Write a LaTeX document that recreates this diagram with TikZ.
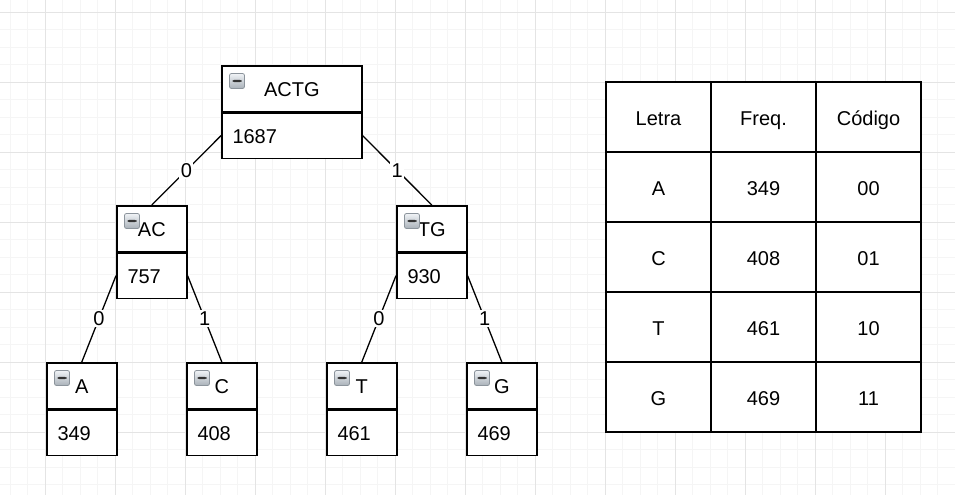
\documentclass[tikz,border=0pt]{standalone}
\usepackage{fontspec}
\setmainfont{Liberation Sans}
\definecolor{gridminor}{HTML}{F5F5F5}
\definecolor{gridmajor}{HTML}{E4E4E4}
\definecolor{iconborder}{HTML}{8C949C}
\definecolor{icontop}{HTML}{F0F3F6}
\definecolor{iconbottom}{HTML}{A9B1B9}
\definecolor{iconbar}{HTML}{333333}
\begin{document}
\begin{tikzpicture}[x=1pt,y=-1pt,
  font=\fontsize{20}{24}\selectfont,
  every node/.append style={text height=16.3pt, text depth=0pt},
  hdr/.style={draw=black, line width=1.6pt, minimum height=45.5pt, inner sep=0pt, fill=white},
  valbox/.style={draw=black, line width=1.6pt, minimum height=45.5pt, inner sep=0pt, fill=white},
  valtext/.style={inner sep=0pt, anchor=west},
  icon/.style={minimum size=15pt, text height=0pt, inner sep=0pt, rounded corners=2pt, draw=iconborder, line width=0.8pt,
    top color=icontop, bottom color=iconbottom,
    path picture={\fill[iconbar] ([xshift=-4.5pt,yshift=-1.2pt]path picture bounding box.center) rectangle ([xshift=4.5pt,yshift=1.2pt]path picture bounding box.center);}},
  edge/.style={line width=1.3pt, black},
  elab/.style={fill=white, inner sep=1.5pt, text height=14.3pt},
  cell/.style={draw=black, line width=1.6pt, minimum width=105pt, minimum height=70pt, inner sep=0pt, fill=white}
]
\useasboundingbox (0,0) rectangle (955,495);
\begin{scope}
\clip (0,0) rectangle (955,495);
\fill[white] (0,0) rectangle (955,495);
\foreach \k in {0,...,55} {
  \draw[gridminor, line width=1pt] ({10.3+17.5*\k},0) -- ({10.3+17.5*\k},495);
}
\foreach \k in {0,...,28} {
  \draw[gridminor, line width=1pt] (0,{12.3+17.5*\k}) -- (955,{12.3+17.5*\k});
}
\foreach \k in {0,...,13} {
  \draw[gridmajor, line width=1pt] ({45.3+70*\k},0) -- ({45.3+70*\k},495);
}
\foreach \k in {0,...,7} {
  \draw[gridmajor, line width=1pt] (0,{12.3+70*\k}) -- (955,{12.3+70*\k});
}
\end{scope}

% tree box: name, left, top, width, header, value
\newcommand\treebox[6]{%
  \node[hdr, minimum width=#4pt, anchor=north west] (#1h) at (#2,#3) {#5};
  \node[valbox, minimum width=#4pt, anchor=north] (#1v) at (#1h.south) {};
  \node[valtext] (#1t) at ([xshift=11.3pt]#1v.west) {#6};
  \node[icon] (#1i) at ({#2+16},{#3+16}) {};
}

\treebox{ACTG}{221}{65}{140}{ACTG}{1687}
\treebox{AC}{116}{205}{70}{AC}{757}
\treebox{TG}{396}{205}{70}{TG}{930}
\treebox{A}{46}{362}{70}{A}{349}
\treebox{C}{186}{362}{70}{C}{408}
\treebox{T}{326}{362}{70}{T}{461}
\treebox{G}{466}{362}{70}{G}{469}

\draw[edge] (ACTGv.west) -- node[elab] (e1) {0} (ACh.north);
\draw[edge] (ACTGv.east) -- node[elab] (e2) {1} (TGh.north);
\draw[edge] (ACv.west) -- node[elab] (e3) {0} (Ah.north);
\draw[edge] (ACv.east) -- node[elab] (e4) {1} (Ch.north);
\draw[edge] (TGv.west) -- node[elab] (e5) {0} (Th.north);
\draw[edge] (TGv.east) -- node[elab] (e6) {1} (Gh.north);

% table
\foreach \r/\a/\b [count=\i from 0] in {Letra/Freq./Código, A/349/00, C/408/01, T/461/10, G/469/11} {
  \node[cell] (t\i a) at ({606+52.5},{82+35+70*\i}) {\r};
  \node[cell] (t\i b) at ({606+105+52.5},{82+35+70*\i}) {\a};
  \node[cell] (t\i c) at ({606+210+52.5},{82+35+70*\i}) {\b};
}
\end{tikzpicture}
\end{document}
